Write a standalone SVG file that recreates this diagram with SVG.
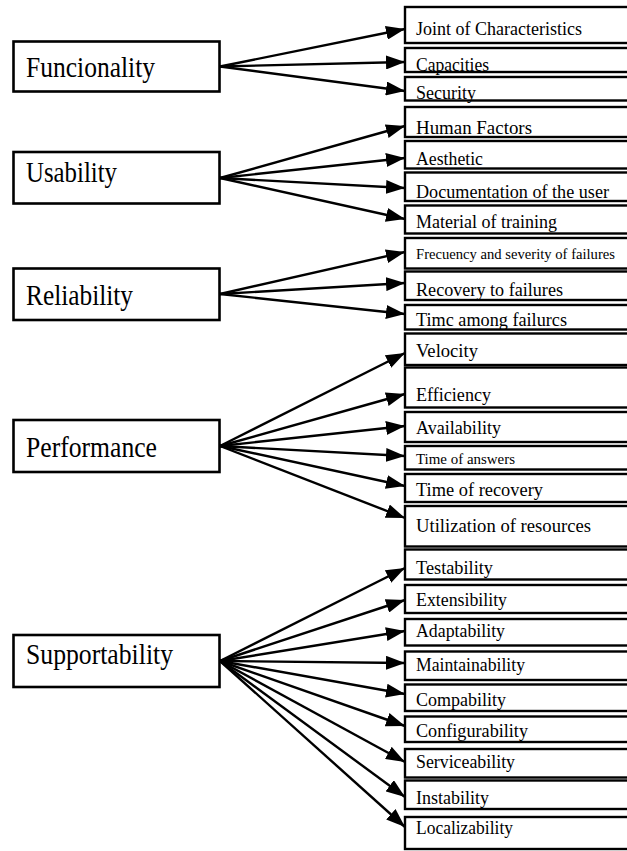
<svg xmlns="http://www.w3.org/2000/svg" width="627" height="851" viewBox="0 0 627 851">
<defs>
<marker id="ah" markerWidth="19" markerHeight="14" refX="19" refY="7" orient="auto" markerUnits="userSpaceOnUse"><path d="M0,0 L19,7 L0,14 z" fill="#000"/></marker>
<style>
.lb{fill:#fff;stroke:#000;stroke-width:2.6}
.rb{fill:#fff;stroke:#000;stroke-width:2.4}
.lt{font-family:"Liberation Serif","Times New Roman",serif;font-size:30px;fill:#000}
.rt{font-family:"Liberation Serif","Times New Roman",serif;font-size:19px;fill:#000}
.st{font-size:15px}
#connectors line{stroke:#000;stroke-width:2.4;marker-end:url(#ah)}
</style>
</defs>
<rect width="627" height="851" fill="#fff"/>
<g id="n-funcionality"><rect class="lb" x="13.5" y="41.5" width="206" height="50"/><text class="lt" x="26" y="77" textLength="129" lengthAdjust="spacingAndGlyphs">Funcionality</text></g>
<g id="n-usability"><rect class="lb" x="13.5" y="152" width="206" height="51.5"/><text class="lt" x="26" y="182" textLength="91" lengthAdjust="spacingAndGlyphs">Usability</text></g>
<g id="n-reliability"><rect class="lb" x="13.5" y="268.5" width="206" height="51.5"/><text class="lt" x="26" y="305" textLength="107" lengthAdjust="spacingAndGlyphs">Reliability</text></g>
<g id="n-performance"><rect class="lb" x="13.5" y="420" width="206" height="52"/><text class="lt" x="26" y="457" textLength="131" lengthAdjust="spacingAndGlyphs">Performance</text></g>
<g id="n-supportability"><rect class="lb" x="13.5" y="635" width="206" height="52"/><text class="lt" x="26" y="664" textLength="147" lengthAdjust="spacingAndGlyphs">Supportability</text></g>

<g id="n-joint"><rect class="rb" x="405" y="7" width="240" height="36"/><text class="rt" x="416" y="34.5" textLength="166" lengthAdjust="spacingAndGlyphs">Joint of Characteristics</text></g>
<g id="n-capacities"><rect class="rb" x="405" y="48" width="240" height="24"/><text class="rt" x="416" y="71" textLength="73" lengthAdjust="spacingAndGlyphs">Capacities</text></g>
<g id="n-security"><rect class="rb" x="405" y="77" width="240" height="23.5"/><text class="rt" x="416" y="99" textLength="60" lengthAdjust="spacingAndGlyphs">Security</text></g>
<g id="n-human"><rect class="rb" x="405" y="107" width="240" height="30"/><text class="rt" x="416" y="134" textLength="116" lengthAdjust="spacingAndGlyphs">Human Factors</text></g>
<g id="n-aesthetic"><rect class="rb" x="405" y="141" width="240" height="27.5"/><text class="rt" x="416" y="164.5" textLength="67" lengthAdjust="spacingAndGlyphs">Aesthetic</text></g>
<g id="n-documentation"><rect class="rb" x="405" y="172.5" width="240" height="28.5"/><text class="rt" x="416" y="198" textLength="193" lengthAdjust="spacingAndGlyphs">Documentation of the user</text></g>
<g id="n-material"><rect class="rb" x="405" y="205.5" width="240" height="28"/><text class="rt" x="416" y="227.5" textLength="141" lengthAdjust="spacingAndGlyphs">Material  of training</text></g>
<g id="n-frecuency"><rect class="rb" x="405" y="238" width="240" height="30.5"/><text class="rt st" x="416" y="259" textLength="199" lengthAdjust="spacingAndGlyphs">Frecuency and severity of failures</text></g>
<g id="n-recovery"><rect class="rb" x="405" y="271.5" width="240" height="28.5"/><text class="rt" x="416" y="295.5" textLength="147" lengthAdjust="spacingAndGlyphs">Recovery to failures</text></g>
<g id="n-timeamong"><rect class="rb" x="405" y="305" width="240" height="24.5"/><text class="rt" x="416" y="325.5" textLength="151" lengthAdjust="spacingAndGlyphs">Timc among failurcs</text></g>
<g id="n-velocity"><rect class="rb" x="405" y="333.5" width="240" height="31.5"/><text class="rt" x="416" y="357" textLength="62" lengthAdjust="spacingAndGlyphs">Velocity</text></g>
<g id="n-efficiency"><rect class="rb" x="405" y="367.5" width="240" height="40"/><text class="rt" x="416" y="400.5" textLength="75" lengthAdjust="spacingAndGlyphs">Efficiency</text></g>
<g id="n-availability"><rect class="rb" x="405" y="412" width="240" height="30"/><text class="rt" x="416" y="434" textLength="85" lengthAdjust="spacingAndGlyphs">Availability</text></g>
<g id="n-answers"><rect class="rb" x="405" y="446" width="240" height="23.5"/><text class="rt st" x="416" y="464" textLength="99" lengthAdjust="spacingAndGlyphs">Time of answers</text></g>
<g id="n-timerecovery"><rect class="rb" x="405" y="474" width="240" height="28"/><text class="rt" x="416" y="495.5" textLength="127" lengthAdjust="spacingAndGlyphs">Time of recovery</text></g>
<g id="n-utilization"><rect class="rb" x="405" y="506" width="240" height="40.5"/><text class="rt" x="416" y="532" textLength="175" lengthAdjust="spacingAndGlyphs">Utilization  of  resources</text></g>
<g id="n-testability"><rect class="rb" x="405" y="549.5" width="240" height="30"/><text class="rt" x="416" y="574" textLength="77" lengthAdjust="spacingAndGlyphs">Testability</text></g>
<g id="n-extensibility"><rect class="rb" x="405" y="585" width="240" height="28"/><text class="rt" x="416" y="605.5" textLength="91" lengthAdjust="spacingAndGlyphs">Extensibility</text></g>
<g id="n-adaptability"><rect class="rb" x="405" y="619" width="240" height="26.5"/><text class="rt" x="416" y="637" textLength="89" lengthAdjust="spacingAndGlyphs">Adaptability</text></g>
<g id="n-maintainability"><rect class="rb" x="405" y="651.5" width="240" height="28.5"/><text class="rt" x="416" y="670.5" textLength="109" lengthAdjust="spacingAndGlyphs">Maintainability</text></g>
<g id="n-compability"><rect class="rb" x="405" y="684.5" width="240" height="26.5"/><text class="rt" x="416" y="705.5" textLength="90" lengthAdjust="spacingAndGlyphs">Compability</text></g>
<g id="n-configurability"><rect class="rb" x="405" y="716.5" width="240" height="25.5"/><text class="rt" x="416" y="737" textLength="112" lengthAdjust="spacingAndGlyphs">Configurability</text></g>
<g id="n-serviceability"><rect class="rb" x="405" y="749" width="240" height="28.5"/><text class="rt" x="416" y="768" textLength="99" lengthAdjust="spacingAndGlyphs">Serviceability</text></g>
<g id="n-instability"><rect class="rb" x="405" y="780.5" width="240" height="28.5"/><text class="rt" x="416" y="804" textLength="73" lengthAdjust="spacingAndGlyphs">Instability</text></g>
<g id="n-localizability"><rect class="rb" x="405" y="817" width="240" height="32"/><text class="rt" x="416" y="834" textLength="97" lengthAdjust="spacingAndGlyphs">Localizability</text></g>

<g id="connectors">
<line x1="220" y1="66.5" x2="405" y2="29"/>
<line x1="220" y1="66.5" x2="405" y2="62"/>
<line x1="220" y1="66.5" x2="405" y2="91"/>
<line x1="220" y1="178" x2="405" y2="126"/>
<line x1="220" y1="178" x2="405" y2="158"/>
<line x1="220" y1="178" x2="405" y2="188"/>
<line x1="220" y1="178" x2="405" y2="219"/>
<line x1="220" y1="294" x2="405" y2="252"/>
<line x1="220" y1="294" x2="405" y2="283"/>
<line x1="220" y1="294" x2="405" y2="314"/>
<line x1="220" y1="446" x2="405" y2="353"/>
<line x1="220" y1="446" x2="405" y2="394"/>
<line x1="220" y1="446" x2="405" y2="426"/>
<line x1="220" y1="446" x2="405" y2="456"/>
<line x1="220" y1="446" x2="405" y2="486"/>
<line x1="220" y1="446" x2="405" y2="518"/>
<line x1="220" y1="661" x2="405" y2="568"/>
<line x1="220" y1="661" x2="405" y2="600"/>
<line x1="220" y1="661" x2="405" y2="631"/>
<line x1="220" y1="661" x2="405" y2="663"/>
<line x1="220" y1="661" x2="405" y2="694"/>
<line x1="220" y1="661" x2="405" y2="726"/>
<line x1="220" y1="661" x2="405" y2="762"/>
<line x1="220" y1="661" x2="405" y2="797"/>
<line x1="220" y1="661" x2="405" y2="827"/>
</g>
</svg>
